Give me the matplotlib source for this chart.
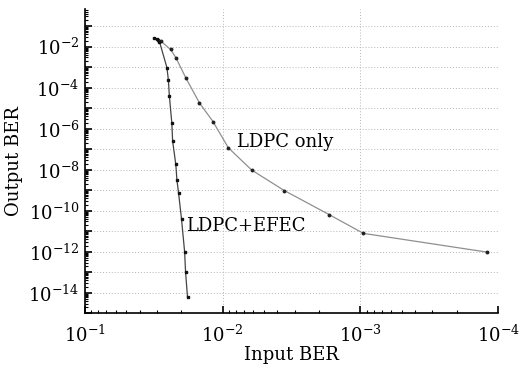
import numpy as np
import matplotlib
matplotlib.use("Agg")
import matplotlib.pyplot as plt
from matplotlib.ticker import LogLocator, FuncFormatter, NullFormatter

plt.rcParams['font.family'] = ['DejaVu Serif']
plt.rcParams['mathtext.fontset'] = 'dejavuserif'

# LDPC + EFEC
efec_x = [0.0318, 0.0300, 0.0288, 0.0254, 0.0248, 0.0244, 0.0234, 0.0231,
          0.0219, 0.0215, 0.0209, 0.0199, 0.0189, 0.0186, 0.0180]
efec_y = [0.0257, 0.0238, 0.0179, 9.5e-4, 2.4e-4, 4.1e-5, 1.83e-6, 2.5e-7,
          1.83e-8, 3.2e-9, 7.1e-10, 3.8e-11, 1.0e-12, 1.0e-13, 6.0e-15]

# LDPC only
ldpc_x = [0.0297, 0.0282, 0.0239, 0.0219, 0.01847, 0.01474, 0.01176, 9.1e-3,
          6.16e-3, 3.57e-3, 1.685e-3, 9.5e-4, 1.21e-4]
ldpc_y = [0.0224, 0.019, 7.3e-3, 2.97e-3, 2.9e-4, 1.8e-5, 2.24e-6, 1.18e-7,
          9.7e-9, 9.7e-10, 6.5e-11, 7.9e-12, 9.7e-13]

labels = ["LDPC only", "LDPC+EFEC"]

fig = plt.figure(figsize=(5.27, 3.67), dpi=100)
ax = fig.add_axes([0.1613, 0.1463, 0.945 - 0.1613, 0.9747 - 0.1463])

ax.set_xscale('log')
ax.set_yscale('log')

ax.plot(ldpc_x, ldpc_y, '-', color='#8f8f8f', lw=0.9, marker='o', ms=1.8,
        mfc='#222222', mec='#222222', zorder=3)
ax.plot(efec_x, efec_y, '-', color='#444444', lw=0.9, marker='s', ms=2.0,
        mfc='#111111', mec='#111111', zorder=4)

ax.set_xlim(1e-1, 1e-4)
ax.set_ylim(1e-15, 0.667)

ax.xaxis.set_major_locator(LogLocator(base=10, numticks=10))
ax.xaxis.set_minor_locator(LogLocator(base=10, subs=np.arange(2, 10), numticks=20))
ax.yaxis.set_major_locator(LogLocator(base=10, numticks=30))
ax.yaxis.set_minor_locator(LogLocator(base=10, subs=np.arange(2, 10), numticks=40))

def yfmt(v, pos):
    e = int(round(np.log10(v)))
    if e % 2 == 0 and e < 0:
        return r'$10^{%d}$' % e
    return ''

def xfmt(v, pos):
    e = int(round(np.log10(v)))
    return r'$10^{%d}$' % e

ax.yaxis.set_major_formatter(FuncFormatter(yfmt))
ax.xaxis.set_major_formatter(FuncFormatter(xfmt))
ax.xaxis.set_minor_formatter(NullFormatter())
ax.yaxis.set_minor_formatter(NullFormatter())

ax.tick_params(which='both', direction='in', top=False, right=False, labelsize=13, color='black')
ax.tick_params(which='major', length=5, width=1.2)
ax.tick_params(which='minor', length=2.5, width=0.8)
ax.tick_params(axis='x', pad=8)
ax.tick_params(axis='y', pad=4)

for s in ['top', 'right']:
    ax.spines[s].set_visible(False)
for s in ['left', 'bottom']:
    ax.spines[s].set_linewidth(1.2)

ax.grid(True, which='major', linestyle=(0, (1, 2)), color='#b5b5b5', lw=0.7)

ax.set_xlabel('Input BER', fontsize=13, labelpad=0)
ax.set_ylabel('Output BER', fontsize=13, labelpad=4)

ax.text(0.0079, 2.2e-7, labels[0], fontsize=13, ha='left', va='center')
ax.text(0.0185, 1.8e-11, labels[1], fontsize=13, ha='left', va='center')

fig.savefig('out.png', dpi=100, facecolor='white')
